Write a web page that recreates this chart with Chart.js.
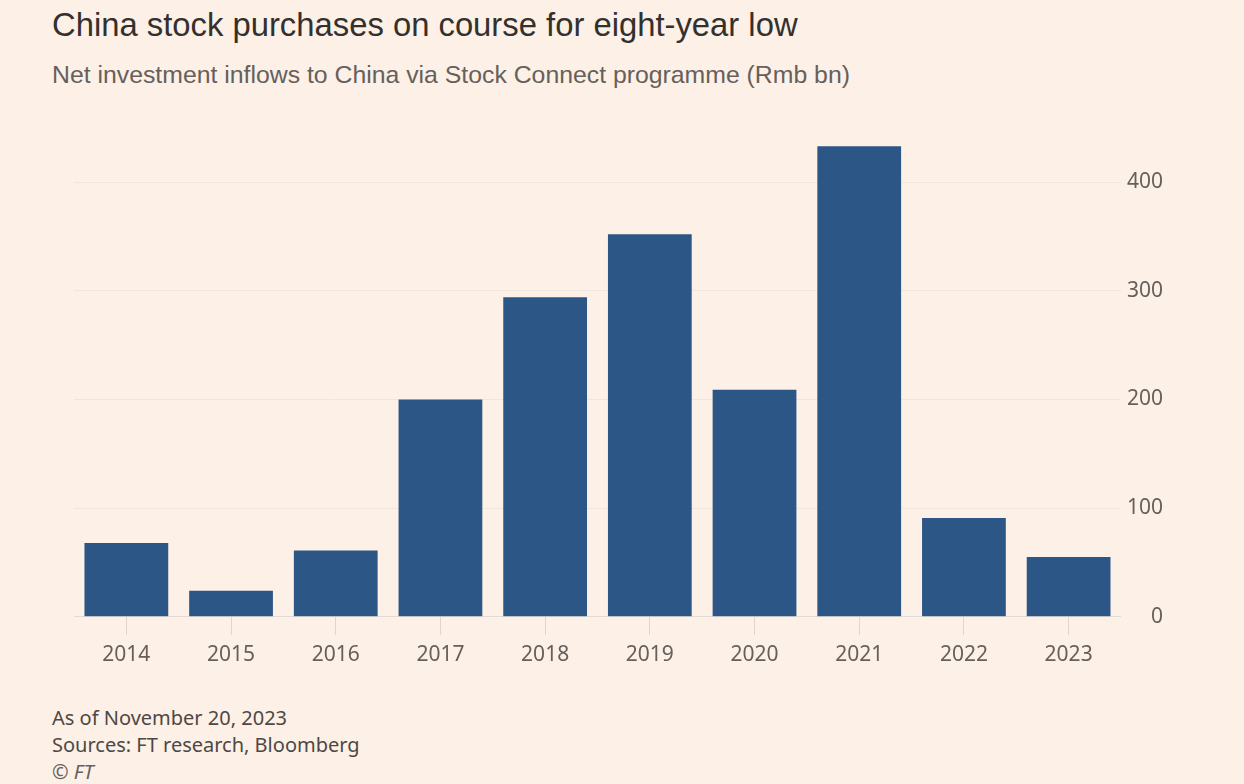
<!DOCTYPE html>
<html>
<head>
<meta charset="utf-8">
<script src="https://cdn.jsdelivr.net/npm/chart.js@4"></script>
<style>
    body { margin: 0; width: 1244px; height: 784px; background: #fdf0e6; position: relative; overflow: hidden; }
    .title { position: absolute; left: 52px; top: 6px; font: 32.8px "Liberation Sans", sans-serif; color: #33302e; }
    .subtitle { position: absolute; left: 52px; top: 61px; font: 24.8px "Liberation Sans", sans-serif; color: #66605c; }
    .chart-box { position: absolute; left: 0; top: 123px; width: 1244px; height: 553px; }
    .footer { position: absolute; left: 52px; top: 704px; font: 20px "Noto Sans", sans-serif; color: #4d4845; line-height: 27px; }
    .footer i { color: #66605c; }
</style>
</head>
<body>
<div class="title">China stock purchases on course for eight-year low</div>
<div class="subtitle">Net investment inflows to China via Stock Connect programme (Rmb bn)</div>
<div class="chart-box"><canvas id="chart"></canvas></div>
<div class="footer">As of November 20, 2023<br>Sources: FT research, Bloomberg<br><i>© FT</i></div>

<script>
const years = ["2014", "2015", "2016", "2017", "2018", "2019", "2020", "2021", "2022", "2023"];
const inflows = [68, 24, 61, 200, 294, 352, 209, 433, 91, 55];
const yTicks = [0, 100, 200, 300, 400];

const tickFont = {family: "Noto Sans", size: 21};

new Chart(document.getElementById("chart"), {
    type: "bar",
    data: {
        labels: years,
        datasets: [{
            data: inflows,
            backgroundColor: "#2c5686",
            categoryPercentage: 1,
            barPercentage: 0.8
        }]
    },
    options: {
        responsive: true,
        maintainAspectRatio: false,
        animation: false,
        layout: {padding: {left: 74, right: 81, top: 0, bottom: 0}},
        plugins: {legend: {display: false}, tooltip: {enabled: false}},
        scales: {
            x: {
                grid: {drawOnChartArea: false, offset: false, color: "#ddd6cf", tickLength: 18},
                border: {color: "#e2dbd3"},
                ticks: {color: "#66605c", font: tickFont, padding: 8}
            },
            y: {
                position: "right",
                min: 0,
                max: 440,
                afterBuildTicks: (scale) => {
                    scale.ticks = yTicks.map(v => ({value: v}));
                },
                grid: {color: "#efe6dd", drawTicks: false},
                border: {display: false},
                ticks: {color: "#66605c", font: tickFont, padding: 3, crossAlign: "far"}
            }
        }
    }
});
</script>
</body>
</html>
